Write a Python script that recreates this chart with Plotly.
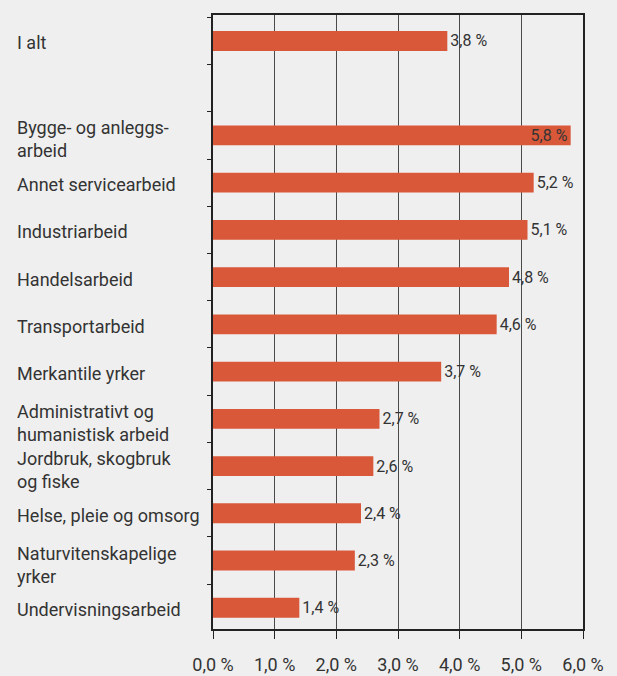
import plotly.graph_objects as go

categories = [
    "I alt",
    " ",
    "Bygge- og anleggs-<br>arbeid",
    "Annet servicearbeid",
    "Industriarbeid",
    "Handelsarbeid",
    "Transportarbeid",
    "Merkantile yrker",
    "Administrativt og<br>humanistisk arbeid",
    "Jordbruk, skogbruk<br>og fiske",
    "Helse, pleie og omsorg",
    "Naturvitenskapelige<br>yrker",
    "Undervisningsarbeid",
]
values = [3.8, None, 5.8, 5.2, 5.1, 4.8, 4.6, 3.7, 2.7, 2.6, 2.4, 2.3, 1.4]
value_labels = ["3,8 %", "", "5,8 %", "5,2 %", "5,1 %", "4,8 %", "4,6 %", "3,7 %",
                "2,7 %", "2,6 %", "2,4 %", "2,3 %", "1,4 %"]
label_positions = ["outside", "none", "inside", "outside", "outside", "outside", "outside",
                   "outside", "outside", "outside", "outside", "outside", "outside"]
tick_vals = [0, 1, 2, 3, 4, 5, 6]
tick_text = ["0,0 %", "1,0 %", "2,0 %", "3,0 %", "4,0 %", "5,0 %", "6,0 %"]

FONT = "Roboto"
TXT = "#333333"
BG = "#EFEFEF"

fig = go.Figure()
fig.add_trace(go.Bar(
    x=values,
    y=categories,
    orientation="h",
    marker=dict(color="#D9583A", line=dict(width=0)),
    width=0.42,
    text=value_labels,
    textposition=label_positions,
    insidetextanchor="end",
    constraintext="none",
    textfont=dict(family=FONT, size=16, color=TXT),
    insidetextfont=dict(family=FONT, size=16, color=TXT),
    outsidetextfont=dict(family=FONT, size=16, color=TXT),
    cliponaxis=False,
    hoverinfo="skip",
))

for cat in categories:
    if cat.strip():
        multiline = "<br>" in cat
        fig.add_annotation(
            x=-0.535, xref="paper", y=cat, yref="y",
            text=cat, showarrow=False, xanchor="left", yanchor="middle", align="left",
            font=dict(family=FONT, size=18, color=TXT), yshift=-4 if multiline else -2,
        )

fig.update_layout(
    width=617, height=676,
    margin=dict(l=213, r=34, t=15, b=47),
    paper_bgcolor=BG, plot_bgcolor=BG,
    showlegend=False,
)
fig.update_xaxes(
    range=[0, 6], tickvals=tick_vals, ticktext=tick_text,
    showgrid=True, gridcolor="#4a4a4a", gridwidth=1,
    showline=True, linecolor="#222222", linewidth=2, mirror=True,
    ticks="outside", ticklen=8, tickcolor="#222222", tickwidth=1,
    ticklabelstandoff=10, automargin=False,
    tickfont=dict(family=FONT, size=18, color=TXT),
    zeroline=False, fixedrange=True,
)
fig.update_yaxes(
    categoryorder="array", categoryarray=categories,
    range=[12.45, -0.55],
    showticklabels=False, automargin=False,
    showline=True, linecolor="#222222", linewidth=2, mirror=True,
    ticks="outside", tickson="boundaries", ticklen=4, tickcolor="#222222",
    showgrid=False, zeroline=False, fixedrange=True,
)

fig.write_html(
    "out.html",
    config={"displayModeBar": False},
    post_script="document.body.style.margin='0px';document.body.style.overflow='hidden';",
)
